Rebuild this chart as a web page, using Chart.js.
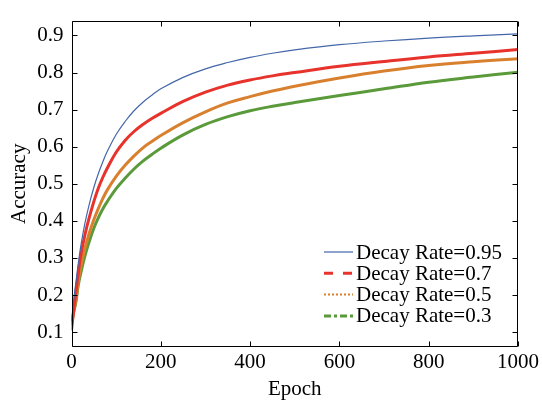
<!DOCTYPE html>
<html><head><meta charset="utf-8">
<script src="https://cdn.jsdelivr.net/npm/chart.js@4/dist/chart.umd.min.js"></script>
<style>html,body{margin:0;padding:0;background:#fff}#wrap{width:542px;height:402px}</style>
</head><body><div id="wrap"><canvas id="c" width="542" height="402"></canvas></div>
<script>
const epochs   = [0, 5, 10, 15, 20, 30, 40, 50, 60, 70, 80, 100, 120, 140, 160, 180, 200, 250, 300, 350, 400, 450, 500, 600, 700, 800, 900, 1000];
const rate095  = [0.130, 0.188, 0.235, 0.283, 0.326, 0.393, 0.446, 0.490, 0.527, 0.559, 0.587, 0.633, 0.668, 0.697, 0.720, 0.739, 0.756, 0.787, 0.810, 0.827, 0.841, 0.852, 0.861, 0.875, 0.885, 0.893, 0.899, 0.904];
const rate07   = [0.105, 0.160, 0.210, 0.258, 0.302, 0.362, 0.410, 0.452, 0.488, 0.517, 0.542, 0.585, 0.617, 0.641, 0.660, 0.676, 0.690, 0.722, 0.747, 0.766, 0.780, 0.791, 0.800, 0.817, 0.830, 0.842, 0.852, 0.862];
const rate05   = [0.120, 0.155, 0.190, 0.235, 0.272, 0.325, 0.368, 0.403, 0.433, 0.460, 0.483, 0.520, 0.550, 0.575, 0.597, 0.614, 0.630, 0.665, 0.694, 0.718, 0.735, 0.750, 0.763, 0.785, 0.804, 0.819, 0.829, 0.837];
const rate03   = [0.130, 0.155, 0.182, 0.225, 0.255, 0.305, 0.345, 0.380, 0.408, 0.432, 0.452, 0.487, 0.515, 0.540, 0.561, 0.579, 0.596, 0.632, 0.660, 0.681, 0.697, 0.709, 0.719, 0.738, 0.756, 0.774, 0.788, 0.801];
const seriesLabels = ['Decay Rate=0.95', 'Decay Rate=0.7', 'Decay Rate=0.5', 'Decay Rate=0.3'];
const xTicks = [0, 200, 400, 600, 800, 1000];
const yTicks = [0.1, 0.2, 0.3, 0.4, 0.5, 0.6, 0.7, 0.8, 0.9];

const FONT = {family: '"Liberation Serif", "Times New Roman", serif', size: 21};
const toPts = arr => arr.map((v, i) => ({x: epochs[i], y: v}));

const styles = [
  {color: '#4467aa', width: 1.2, legendWidth: 1.2, legendDash: []},
  {color: '#e8322c', width: 3, legendWidth: 3, legendDash: [9, 10]},
  {color: '#d9802f', width: 3, legendWidth: 2, legendDash: [2, 2]},
  {color: '#5a9a3a', width: 3, legendWidth: 3, legendDash: [7, 3, 3, 3]}
];
const series = [rate095, rate07, rate05, rate03];

const datasets = series.map((s, i) => ({
  label: seriesLabels[i],
  data: toPts(s),
  borderColor: styles[i].color,
  backgroundColor: styles[i].color,
  borderWidth: styles[i].width,
  pointRadius: 0,
  fill: false,
  tension: 0.4,
  borderJoinStyle: 'round',
  legendDash: styles[i].legendDash,
  legendWidth: styles[i].legendWidth
}));

const framePlugin = {
  id: 'frame',
  afterDatasetsDraw(chart) {
    const {ctx, chartArea: a, scales} = chart;
    ctx.save();
    ctx.strokeStyle = '#000';
    ctx.lineWidth = 1;
    ctx.setLineDash([]);
    const L = Math.round(a.left) + 0.5, R = Math.round(a.right) - 0.5;
    const T = Math.round(a.top) + 0.5, B = Math.round(a.bottom) - 0.5;
    ctx.beginPath();
    ctx.rect(L, T, R - L, B - T);
    ctx.stroke();
    const tl = 5;
    ctx.beginPath();
    xTicks.forEach(v => {
      const x = Math.round(scales.x.getPixelForValue(v)) + 0.5;
      ctx.moveTo(x, B); ctx.lineTo(x, B - tl);
      ctx.moveTo(x, T); ctx.lineTo(x, T + tl);
    });
    yTicks.forEach(v => {
      const y = Math.round(scales.y.getPixelForValue(v)) + 0.5;
      ctx.moveTo(L, y); ctx.lineTo(L + tl, y);
      ctx.moveTo(R, y); ctx.lineTo(R - tl, y);
    });
    ctx.stroke();
    ctx.restore();
  }
};

const legendPlugin = {
  id: 'innerLegend',
  afterDraw(chart) {
    const {ctx, chartArea: a} = chart;
    ctx.save();
    ctx.font = '21px "Liberation Serif", "Times New Roman", serif';
    ctx.textBaseline = 'middle';
    ctx.textAlign = 'left';
    chart.data.datasets.forEach((ds, i) => {
      const y = a.bottom - 95 + i * 21.3;
      ctx.beginPath();
      ctx.setLineDash(ds.legendDash);
      ctx.lineWidth = ds.legendWidth;
      ctx.strokeStyle = ds.borderColor;
      ctx.moveTo(a.right - 194, y);
      ctx.lineTo(a.right - 165, y);
      ctx.stroke();
      ctx.setLineDash([]);
      ctx.fillStyle = '#000';
      ctx.fillText(ds.label, a.right - 162, y + 1);
    });
    ctx.restore();
  }
};

new Chart(document.getElementById('c'), {
  type: 'line',
  data: {datasets},
  options: {
    responsive: false,
    animation: false,
    devicePixelRatio: 1,
    layout: {padding: {top: 10.7, right: 24, left: 0, bottom: 0}},
    plugins: {legend: {display: false}, tooltip: {enabled: false}},
    scales: {
      x: {
        type: 'linear', min: 0, max: 1000,
        afterBuildTicks: s => { s.ticks = xTicks.map(v => ({value: v})); },
        afterFit: s => { s.height = 55; },
        grid: {display: false, drawTicks: false},
        border: {display: false},
        ticks: {font: FONT, color: '#000', padding: 3, maxRotation: 0, autoSkip: false, callback: v => String(v)},
        title: {display: true, text: 'Epoch', font: FONT, color: '#000', padding: {top: 0, bottom: 0}}
      },
      y: {
        type: 'linear', min: 0.06, max: 0.94,
        afterBuildTicks: s => { s.ticks = yTicks.map(v => ({value: v})); },
        afterFit: s => { s.width = 71.5; },
        grid: {display: false, drawTicks: false},
        border: {display: false},
        ticks: {font: FONT, color: '#000', padding: 8, autoSkip: false, callback: v => Number(v).toFixed(1)},
        title: {display: true, text: 'Accuracy', font: FONT, color: '#000', padding: {top: 7, bottom: 0}}
      }
    }
  },
  plugins: [framePlugin, legendPlugin]
});
</script>
</body></html>
